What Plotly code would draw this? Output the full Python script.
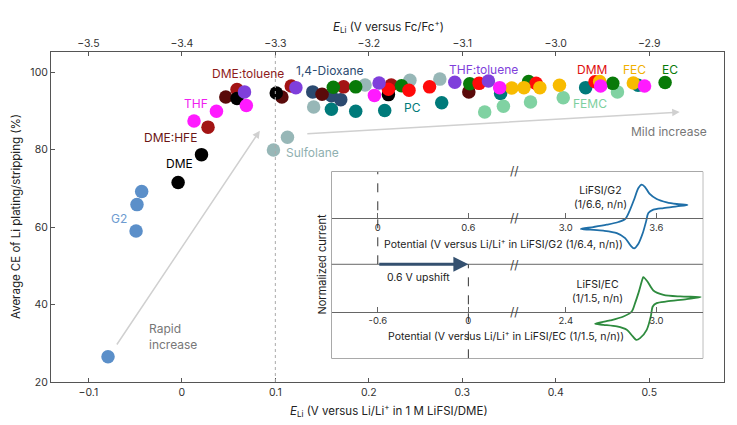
import plotly.graph_objects as go

# E_Li vs Li/Li+ (1 M LiFSI/DME) and average CE (%) per solvent family
g2_x = [-0.079, -0.049, -0.048, -0.043]
g2_y = [26.5, 59.0, 65.8, 69.2]
dme_x = [-0.004, 0.021, 0.059, 0.101, 0.221]
dme_y = [71.5, 78.7, 93.2, 94.6, 94.2]
hfe_x = [0.028, 0.059, 0.117, 0.173, 0.224]
hfe_y = [85.8, 95.5, 96.4, 96.2, 96.7]
tol_x = [0.047, 0.107, 0.150, 0.307]
tol_y = [93.6, 93.6, 94.3, 94.9]
thf_x = [0.013, 0.037, 0.069, 0.206, 0.340, 0.448, 0.495]
thf_y = [87.4, 89.9, 91.4, 94.0, 96.0, 96.4, 96.4]
thftol_x = [0.067, 0.122, 0.211, 0.292, 0.328]
thftol_y = [94.9, 96.0, 97.2, 97.4, 97.7]
sulf_x = [0.098, 0.113, 0.141, 0.196, 0.244, 0.276]
sulf_y = [79.9, 83.2, 91.0, 96.7, 97.9, 98.2]
diox_x = [0.140, 0.160, 0.170]
diox_y = [94.9, 93.9, 92.9]
pc_x = [0.160, 0.186, 0.217, 0.278, 0.341, 0.432, 0.488]
pc_y = [90.4, 89.9, 90.1, 92.1, 94.5, 96.0, 96.6]
ec_x = [0.162, 0.186, 0.235, 0.308, 0.371, 0.461, 0.517]
ec_y = [96.1, 96.2, 96.5, 97.0, 97.6, 97.1, 97.3]
dmm_x = [0.221, 0.243, 0.265, 0.318, 0.379, 0.442]
dmm_y = [95.6, 95.3, 96.2, 97.1, 97.1, 97.5]
fec_x = [0.353, 0.366, 0.383, 0.404, 0.447, 0.483]
fec_y = [95.9, 96.0, 96.0, 96.6, 97.6, 97.2]
femc_x = [0.324, 0.344, 0.373, 0.408, 0.466]
femc_y = [89.7, 91.2, 92.3, 93.4, 94.9]

bottom_ticks = [-0.1, 0, 0.1, 0.2, 0.3, 0.4, 0.5]
top_ticks = [-3.5, -3.4, -3.3, -3.2, -3.1, -3.0, -2.9]

# inset CVs: potential (V) and normalized current
cv_g2_v = [3.099, 3.183, 3.271, 3.349, 3.393, 3.421, 3.452, 3.481, 3.503, 3.525,
           3.554, 3.602, 3.669, 3.735, 3.806, 3.735, 3.647, 3.580, 3.547, 3.532,
           3.510, 3.481, 3.452, 3.430, 3.393, 3.338, 3.249, 3.161, 3.099]
cv_g2_i = [-0.238, -0.195, -0.145, -0.087, -0.022, 0.143, 0.395, 0.647, 0.719, 0.669,
           0.525, 0.410, 0.338, 0.302, 0.280, 0.251, 0.215, 0.179, 0.107, -0.073,
           -0.325, -0.555, -0.656, -0.598, -0.433, -0.325, -0.274, -0.253, -0.238]
cv_ec_v = [2.594, 2.693, 2.782, 2.837, 2.859, 2.881, 2.910, 2.914, 2.941, 2.980,
           3.047, 3.157, 3.294, 3.201, 3.069, 3.002, 2.976, 2.963, 2.936, 2.892,
           2.866, 2.844, 2.804, 2.738, 2.649, 2.594]
cv_ec_i = [-0.266, -0.195, -0.110, -0.004, 0.174, 0.387, 0.706, 0.727, 0.635, 0.443,
           0.351, 0.316, 0.301, 0.259, 0.209, 0.174, 0.103, -0.110, -0.394, -0.571,
           -0.606, -0.535, -0.394, -0.323, -0.287, -0.266]
g2_ticks = [0, 0.6, 3.0, 3.6]
ec_ticks = [-0.6, 0, 2.4, 3.0]

BREAK_SHIFT = 1.755  # axis break between 0.6 and 3.0 V


def brk(v):
    return v - BREAK_SHIFT if v > 1.5 else v


FONT = "Inter"
series = [
    ("Sulfolane", sulf_x, sulf_y, "#97b7b7"),
    ("PC", pc_x, pc_y, "#007a7a"),
    ("FEMC", femc_x, femc_y, "#80d2a2"),
    ("1,4-Dioxane", diox_x, diox_y, "#2b4a70"),
    ("DME:toluene", tol_x, tol_y, "#5a0a0a"),
    ("DME:HFE", hfe_x, hfe_y, "#a31414"),
    ("DME", dme_x, dme_y, "#000000"),
    ("EC", ec_x, ec_y, "#087a08"),
    ("DMM", dmm_x, dmm_y, "#ff0a0a"),
    ("FEC", fec_x, fec_y, "#f8bb00"),
    ("THF:toluene", thftol_x, thftol_y, "#7f3fdb"),
    ("THF", thf_x, thf_y, "#ff1aff"),
    ("G2", g2_x, g2_y, "#5b8fc9"),
]

fig = go.Figure()
for name, xs, ys, col in series:
    fig.add_trace(go.Scatter(x=xs, y=ys, mode="markers", name=name,
                             marker=dict(size=13.5, color=col, line=dict(width=0))))

# dummy trace so the top axis gets drawn
fig.add_trace(go.Scatter(x=top_ticks, y=[None] * len(top_ticks), xaxis="x2", yaxis="y",
                         mode="markers", hoverinfo="skip"))

fig.add_trace(go.Scatter(x=[brk(v) for v in cv_g2_v], y=cv_g2_i, xaxis="x3", yaxis="y3",
                         mode="lines", line=dict(color="#1f6fa8", width=1.8, shape="spline",
                                                 smoothing=0.8)))
fig.add_trace(go.Scatter(x=[brk(v) for v in cv_ec_v], y=cv_ec_i, xaxis="x4", yaxis="y4",
                         mode="lines", line=dict(color="#2e8b3e", width=1.8, shape="spline",
                                                 smoothing=0.8)))

axis_common = dict(showline=True, linecolor="#555", linewidth=1, ticks="inside", ticklen=4,
                   tickcolor="#555", showgrid=False, zeroline=False, automargin=False,
                   tickfont=dict(size=10.5, color="#333"))
inset_x = dict(domain=[0.4171, 0.9684], anchor="free", showline=True, linecolor="#666",
               ticks="inside", ticklen=5, tickcolor="#666", showgrid=False, zeroline=False,
               automargin=False, tickfont=dict(size=9.5, color="#333"))

# page body adds 8 px, so the figure is 8 px smaller and the margins shifted
fig.update_layout(
    width=729, height=417, margin=dict(l=43, r=13, t=44, b=43),
    plot_bgcolor="white", paper_bgcolor="white", showlegend=False,
    font=dict(family=FONT, size=11, color="#333"),
    xaxis=dict(range=[-0.14, 0.58], tickvals=bottom_ticks, **axis_common),
    xaxis2=dict(range=[-3.54, -2.82], tickvals=top_ticks, tickformat=".1f", overlaying="x",
                side="top", anchor="y", **axis_common),
    yaxis=dict(range=[20, 105.2], tickvals=[20, 40, 60, 80, 100], mirror=True, **axis_common),
    xaxis3=dict(range=[-0.305, 2.152], tickvals=[brk(v) for v in g2_ticks],
                ticktext=["0", "0.6", "3.0", "3.6"], position=0.496, **inset_x),
    yaxis3=dict(domain=[0.3567, 0.6373], range=[-1, 1], anchor="x3", visible=False),
    xaxis4=dict(range=[-0.905, 1.552], tickvals=[brk(v) for v in ec_ticks],
                ticktext=["-0.6", "0", "2.4", "3.0"], position=0.213, **inset_x),
    yaxis4=dict(domain=[0.0718, 0.3567], range=[-1, 1], anchor="x4", visible=False),
)

# reference line at 0.1 V, inset frame, separator, dashed guides
fig.add_shape(type="line", xref="x", yref="paper", x0=0.1, x1=0.1, y0=0, y1=1,
              line=dict(color="#aaa", width=1, dash="dot"))
fig.add_shape(type="rect", xref="paper", yref="paper", x0=0.4171, x1=0.9684, y0=0.0718,
              y1=0.6373, line=dict(color="#666", width=1), fillcolor="white", layer="below")
fig.add_shape(type="line", xref="paper", yref="paper", x0=0.4171, x1=0.9684, y0=0.3567,
              y1=0.3567, line=dict(color="#666", width=1))
fig.add_shape(type="line", xref="x3", yref="y3", x0=0, x1=0, y0=-1, y1=1,
              line=dict(color="#333", width=1, dash="dash"))
fig.add_shape(type="line", xref="x4", yref="y4", x0=0, x1=0, y0=-1, y1=1,
              line=dict(color="#333", width=1, dash="dash"))


def note(x, y, text, xref="paper", yref="paper", size=11.5, color="#222", **kw):
    fig.add_annotation(x=x, y=y, xref=xref, yref=yref, text=text, showarrow=False,
                       xanchor=kw.pop("xanchor", "center"), yanchor="middle",
                       font=dict(size=size, color=color), **kw)


labels = [
    ("DME:toluene", 0.0706, 99.7, "#8e1b1b"),
    ("1,4-Dioxane", 0.158, 100.3, "#2b4a70"),
    ("THF", 0.0147, 91.9, "#f020f0"),
    ("DME:HFE", -0.012, 83.1, "#6a1515"),
    ("DME", -0.003, 76.4, "#000000"),
    ("Sulfolane", 0.140, 79.2, "#8fb0b0"),
    ("G2", -0.067, 62.3, "#6d9bd0"),
    ("PC", 0.247, 91.0, "#007a7a"),
    ("THF:toluene", 0.323, 100.8, "#7f3fdb"),
    ("DMM", 0.439, 100.7, "#e01010"),
    ("FEC", 0.4845, 100.7, "#f0b000"),
    ("EC", 0.5227, 100.7, "#087a08"),
    ("FEMC", 0.437, 92.0, "#7dcf9e"),
    ("Mild increase", 0.521, 84.75, "#777"),
]
for txt, x, y, col in labels:
    note(x, y, txt, xref="x", yref="y", color=col, size=12)
note(-0.037, 31.7, "Rapid<br>increase", xref="x", yref="y", color="#777", size=12,
     xanchor="left", align="left")

# trend arrows
for (hx, hy, tx, ty) in [(0.0834, 84.9, -0.0706, 29.3), (0.5326, 89.7, 0.1326, 84.1)]:
    fig.add_annotation(x=hx, y=hy, ax=tx, ay=ty, xref="x", yref="y", axref="x", ayref="y",
                       text="", showarrow=True, arrowhead=2, arrowsize=1, arrowwidth=1.5,
                       arrowcolor="#d0d0d0")

# axis titles
note(0.502, -0.085, "<i>E</i><sub>Li</sub> (V versus Li/Li<sup>+</sup> in 1 M LiFSI/DME)")
note(0.502, 1.076, "<i>E</i><sub>Li</sub> (V versus Fc/Fc<sup>+</sup>)")
note(-0.052, 0.5, "Average CE of Li plating/stripping (%)", textangle=-90)

# inset texts
note(0.402, 0.3545, "Normalized current", size=11, textangle=-90)
note(0.830, -0.56, "Potential (V versus Li/Li<sup>+</sup> in LiFSI/G2 (1/6.4, n/n))",
     xref="x3", yref="y3", size=10.5)
note(0.250, -0.515, "Potential (V versus Li/Li<sup>+</sup> in LiFSI/EC (1/1.5, n/n))",
     xref="x4", yref="y4", size=10.5)
note(1.472, 0.44, "LiFSI/G2<br>(1/6.6, n/n)", xref="x3", yref="y3", size=10.5)
note(0.854, 0.42, "LiFSI/EC<br>(1/1.5, n/n)", xref="x4", yref="y4", size=10.5)
note(0.269, 0.728, "0.6 V upshift", xref="x3", yref="y4", size=10.5)
fig.add_annotation(x=0.6, y=-1, ax=0, ay=-1, xref="x3", yref="y3", axref="x3", ayref="y3",
                   text="", showarrow=True, arrowhead=2, arrowsize=1, arrowwidth=3,
                   arrowcolor="#34506f")
for yb in [0.642, 0.497, 0.3567, 0.213]:
    note(0.688, yb, "//", size=12, color="#444")

fig.write_html("out.html")
